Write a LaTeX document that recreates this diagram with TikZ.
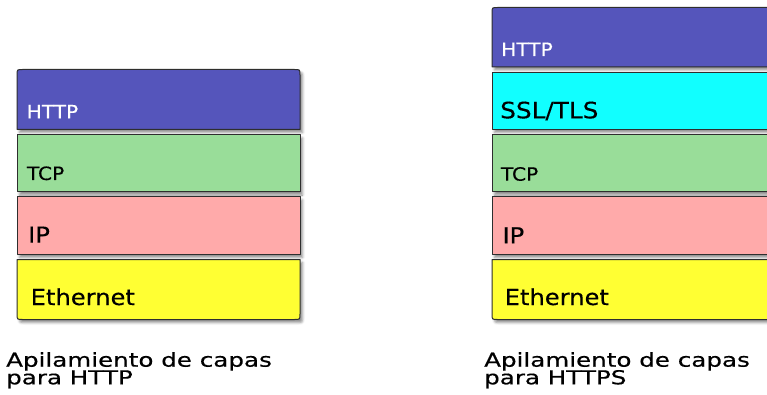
\documentclass[tikz,border=0pt]{standalone}
\usepackage{fontspec}
\usetikzlibrary{shadows.blur}
\newfontfamily\layerfont[FakeStretch=1.1,FakeBold=0.3]{DejaVu Sans}
\newfontfamily\stackfont[FakeStretch=1.28,FakeBold=0.5]{DejaVu Sans}
\definecolor{httpblue}{HTML}{5555BB}
\definecolor{tlscyan}{HTML}{11FFFF}
\definecolor{tcpgreen}{HTML}{99DD99}
\definecolor{ippink}{HTML}{FFAAAA}
\definecolor{ethyellow}{HTML}{FFFF33}
\definecolor{edgegray}{HTML}{2E2E2E}
\begin{document}
\begin{tikzpicture}[x=1pt,y=-1pt,
  layerbox/.style={draw=edgegray, line width=1pt, line join=round,
    blur shadow={shadow xshift=2.5pt, shadow yshift=-3pt,
      shadow blur radius=2.5pt, shadow opacity=45}},
  layerlabel/.style={anchor=base west, inner sep=0pt,
    font=\layerfont\fontsize{18.3}{20}\selectfont},
  biglabel/.style={layerlabel, font=\layerfont\fontsize{22}{24}\selectfont},
  capline/.style={anchor=base west, inner sep=0pt,
    font=\stackfont\fontsize{19.2}{18}\selectfont}]
\useasboundingbox (0,0) rectangle (767,395);
\clip (0,0) rectangle (767,395);

% ---- HTTP stack ----
\path[layerbox, fill=httpblue] (17,129.5) -- (17,75)
  .. controls (17,69.5) .. (22.5,69.5) -- (294.5,69.5)
  .. controls (300,69.5) .. (300,75) -- (300,129.5) -- cycle;
\path[layerbox, fill=tcpgreen] (17,135) rectangle (300,192);
\path[layerbox, fill=ippink] (17,197) rectangle (300,254.5);
\path[layerbox, fill=ethyellow] (17,259.5) -- (300,259.5) -- (300,314)
  .. controls (300,319.5) .. (294.5,319.5) -- (22.5,319.5)
  .. controls (17,319.5) .. (17,314) -- cycle;

\node[layerlabel, text=white] (lhttp) at (26.5,118.3) {HTTP};
\node[layerlabel] (ltcp) at (26.7,180) {TCP};
\node[biglabel] (lip) at (28,242.7) {IP};
\node[biglabel] (leth) at (30.5,305) {Ethernet};

% ---- HTTPS stack ----
\path[layerbox, fill=httpblue] (492,67) -- (492,13)
  .. controls (492,7.5) .. (497.5,7.5) -- (800,7.5) -- (800,67) -- cycle;
\path[layerbox, fill=tlscyan] (492,72.5) rectangle (800,129.5);
\path[layerbox, fill=tcpgreen] (492,135) rectangle (800,192);
\path[layerbox, fill=ippink] (492,197) rectangle (800,254.5);
\path[layerbox, fill=ethyellow] (492,259.5) -- (800,259.5) -- (800,319.5)
  -- (497.5,319.5) .. controls (492,319.5) .. (492,314) -- cycle;

\node[layerlabel, text=white] (rhttp) at (501,56) {HTTP};
\node[biglabel, font=\layerfont\fontsize{22.5}{24}\selectfont] (rtls) at (500,118.3) {SSL/TLS};
\node[layerlabel] (rtcp) at (500.7,180.7) {TCP};
\node[biglabel] (rip) at (502.3,243.3) {IP};
\node[biglabel] (reth) at (504.5,305) {Ethernet};

% ---- captions ----
\node[capline] (lcap1) at (6,366.7) {Apilamiento de capas};
\node[capline] (lcap2) at (6,384.3) {para HTTP};
\node[capline] (rcap1) at (484,366.7) {Apilamiento de capas};
\node[capline] (rcap2) at (484,384.3) {para HTTPS};
\end{tikzpicture}
\end{document}
